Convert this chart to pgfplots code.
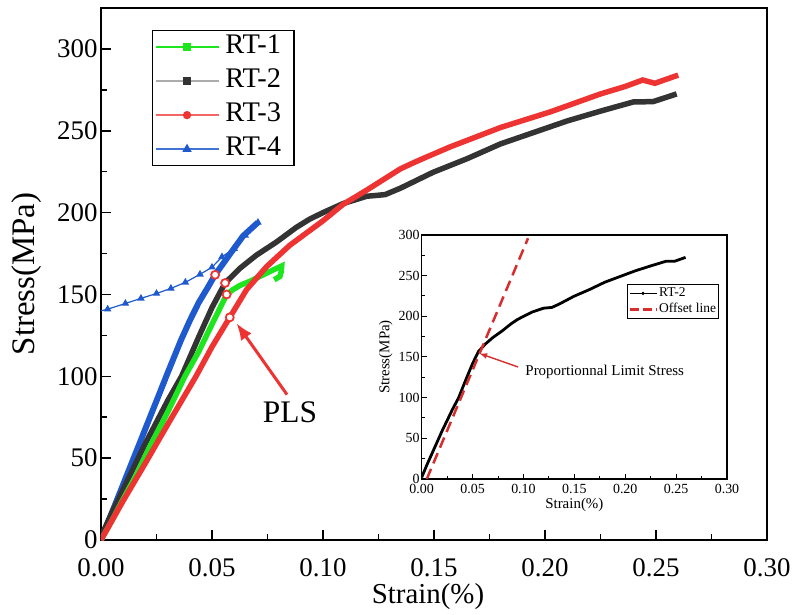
\documentclass[border=0pt]{standalone}
\usepackage{fontspec}
\setmainfont{Liberation Serif}
\usepackage{pgfplots}
\pgfplotsset{compat=1.18}
\usepackage{pgfplotstable}
\usetikzlibrary{arrows.meta}

\definecolor{cG}{RGB}{30,230,30}
\definecolor{cK}{RGB}{51,51,51}
\definecolor{cR}{RGB}{238,51,51}
\definecolor{cB}{RGB}{30,90,205}

% strain (%)  stress (MPa)
\pgfplotstableread{
x y
0 0
0.005 12
0.01 25
0.016 40
0.022 57
0.03 78
0.0378 100
0.044 115
0.049 129
0.053 140
0.0566 150
0.0595 153
0.0626 155.5
0.067 158
0.0731 162
0.0776 165
0.0814 167.4
0.0812 164
0.0806 161
0.078 159
}\rtone

\pgfplotstableread{
x y
0 2
0.005 17
0.01 31
0.015 45
0.02 59
0.025 72
0.03 85
0.0363 100
0.044 124
0.05 142
0.0559 157
0.0626 166
0.07 174
0.079 182
0.088 191
0.094 196
0.1 200
0.109 205.5
0.1197 210
0.124 210.5
0.128 211
0.135 215
0.1497 224.7
0.165 233
0.18 242
0.195 249
0.21 256
0.225 262
0.2398 267.6
0.2487 267.8
0.2593 272.5
}\rttwo

\pgfplotstableread{
x y
0 0
0.01 24
0.02 47
0.03 70.5
0.0428 100
0.05 118
0.058 136
0.0656 153
0.0746 167
0.085 180
0.09 185
0.1 195
0.109 205
0.12 214
0.1347 226.6
0.14 230
0.145 233
0.157 240
0.18 252
0.2023 261.5
0.225 272.5
0.236 277
0.244 281
0.2495 279
0.26 284
}\rtthree

\pgfplotstableread{
x y
0 0
0.01 34
0.02 68
0.03 102
0.036 122
0.04 134
0.044 145
0.048 154
0.0514 162
0.058 174.5
0.064 185.7
0.0707 194
}\rtfour

\pgfplotstableread{
x y
0 140
0.003 141
0.011 144.5
0.018 147.6
0.025 150.6
0.0315 153.7
0.038 157.4
0.0446 162.3
0.05 166.6
0.0545 173
0.06 178
0.065 186
0.0707 194
}\rtfourb

\pgfplotstableread{
x y
0.0514 162
0.0559 157
0.0566 150
0.058 136
}\pls

\begin{document}
\begin{tikzpicture}
\path[use as bounding box] (-101bp,-75bp) rectangle (695bp,540bp);
\begin{axis}[
  at={(0,0)}, anchor=south west,
  scale only axis, width=666bp, height=532bp,
  xmin=0, xmax=0.30, ymin=0, ymax=325,
  xtick={0,0.05,0.1,0.15,0.2,0.25,0.3},
  ytick={0,50,100,150,200,250,300},
  minor x tick num=1, minor y tick num=1,
  xticklabel style={inner ysep=0bp, yshift=-18bp, /pgf/number format/.cd, fixed, fixed zerofill, precision=2},
  yticklabel style={inner ysep=0bp},
  /pgf/number format/assume math mode=true,
  tick align=inside, xtick pos=bottom, ytick pos=left,
  major tick length=10bp, minor tick length=6bp,
  axis line style={line width=2bp},
  every tick/.style={line width=1.6bp, black},
  tick label style={font=\fontsize{27}{32}\selectfont},
  xlabel={Strain(\%)}, ylabel={Stress(MPa)},
  every axis x label/.style={at={(rel axis cs:0.491,-0.107)}, anchor=center, font=\fontsize{29}{34}\selectfont},
  every axis y label/.style={at={(rel axis cs:-0.111,0.5)}, anchor=center, rotate=90, font=\fontsize{33}{38}\selectfont},
  legend cell align=left,
  legend image code/.code={\draw[mark repeat=2, mark phase=2, #1] plot coordinates {(0bp,0bp) (31.5bp,0bp) (63bp,0bp)};},
  legend style={at={(0.0766,0.9586)}, anchor=north west, draw=black, line width=1.2bp,
    font=\fontsize{28.5}{30}\selectfont, inner xsep=2bp, inner ysep=2bp, row sep=5bp,
    nodes={inner sep=2bp, text height=19bp, text depth=6bp},
    /tikz/every odd column/.append style={column sep=4bp}},
]
\addplot[cB, line width=1.2bp, mark=triangle*, mark size=3.2bp, mark indices={2,3,4,5,6,7,8,9,10,11,12,13}, forget plot] table[x=x, y=y] {\rtfourb};
\addplot[cB, line width=6bp, forget plot] table[x=x, y=y] {\rtfour};
\addplot[cK, line width=5.5bp, forget plot] table[x=x, y=y] {\rttwo};
\addplot[cG, line width=5.5bp, forget plot] table[x=x, y=y] {\rtone};
\addplot[cR, line width=5.5bp, forget plot] table[x=x, y=y] {\rtthree};
\addplot[only marks, mark=*, mark size=4bp, mark options={fill=white, draw=cR, line width=1.8bp}, forget plot] table[x=x, y=y] {\pls};

\addlegendimage{color=cG, draw=cG, line width=1.8bp, mark=square*, mark size=3bp, mark options={fill=cG, draw=cG}}
\addlegendentry{RT-1\kern9bp}
\addlegendimage{color=gray!65, draw=gray!65, line width=1.8bp, mark=square*, mark size=3bp, mark options={fill=cK, draw=cK}}
\addlegendentry{RT-2\kern9bp}
\addlegendimage{color=cR!75, draw=cR!75, line width=1.8bp, mark=*, mark size=3.2bp, mark options={fill=cR, draw=cR}}
\addlegendentry{RT-3\kern9bp}
\addlegendimage{color=cB!85, draw=cB!85, line width=1.8bp, mark=triangle*, mark size=3.6bp, mark options={fill=cB, draw=cB}}
\addlegendentry{RT-4\kern9bp}

\draw[cR, line width=3bp, -{Latex[length=17bp, width=13bp]}] (axis cs:0.0838,88.8) -- (axis cs:0.0610,132.5);
\node[font=\fontsize{31.5}{36}\selectfont, anchor=center] at (axis cs:0.0851,78) {PLS};
\end{axis}

\begin{axis}[
  at={(320.7bp,61bp)}, anchor=south west,
  scale only axis, width=305.3bp, height=244bp,
  axis background/.style={fill=white},
  xmin=0, xmax=0.30, ymin=0, ymax=300,
  xtick={0,0.05,0.1,0.15,0.2,0.25,0.3},
  ytick={0,50,100,150,200,250,300},
  minor x tick num=1, minor y tick num=1,
  xticklabel style={inner xsep=1bp, inner ysep=0bp, yshift=-5bp, /pgf/number format/.cd, fixed, fixed zerofill, precision=2},
  yticklabel style={inner xsep=2bp, inner ysep=0bp},
  /pgf/number format/assume math mode=true,
  tick align=inside, xtick pos=bottom, ytick pos=left,
  major tick length=5bp, minor tick length=3bp,
  axis line style={line width=1.2bp},
  every tick/.style={line width=1bp, black},
  tick label style={font=\fontsize{14}{15}\selectfont},
  xlabel={Strain(\%)}, ylabel={Stress(MPa)},
  every axis x label/.style={at={(rel axis cs:0.5,-0.108)}, anchor=center, font=\fontsize{15}{17}\selectfont},
  every axis y label/.style={at={(rel axis cs:-0.118,0.5)}, anchor=center, rotate=90, font=\fontsize{15}{17}\selectfont},
  legend cell align=left,
  legend image code/.code={\draw[mark repeat=2, mark phase=2, #1] plot coordinates {(0bp,0bp) (13.5bp,0bp) (27bp,0bp)};},
  legend style={at={(0.6725,0.799)}, anchor=north west, draw=black, line width=0.8bp,
    font=\fontsize{13.5}{15}\selectfont, inner xsep=1bp, inner ysep=1bp, row sep=0bp,
    nodes={inner sep=1.5bp, text height=10bp, text depth=3bp}},
]
\addplot[black, line width=2.8bp, forget plot] table[x=x, y=y] {\rttwo};
\addplot[cR!90!black, line width=2.5bp, dash pattern=on 11bp off 6bp, forget plot] coordinates {(0.005,0) (0.1045,296)};
\addlegendimage{color=black, draw=black, line width=0.8bp, mark=*, mark size=1.2bp}
\addlegendentry{RT-2}
\addlegendimage{color=cR!90!black, draw=cR!90!black, line width=2.2bp, dash pattern=on 9bp off 4bp}
\addlegendentry{Offset line}
\draw[cR!90!black, line width=1.4bp, -{Latex[length=8bp, width=6bp]}] (axis cs:0.0947,137.7) -- (axis cs:0.0565,154.5);
\node[font=\fontsize{15}{17}\selectfont, anchor=west] at (axis cs:0.0985,132) {Proportionnal Limit Stress};
\end{axis}
\end{tikzpicture}
\end{document}
